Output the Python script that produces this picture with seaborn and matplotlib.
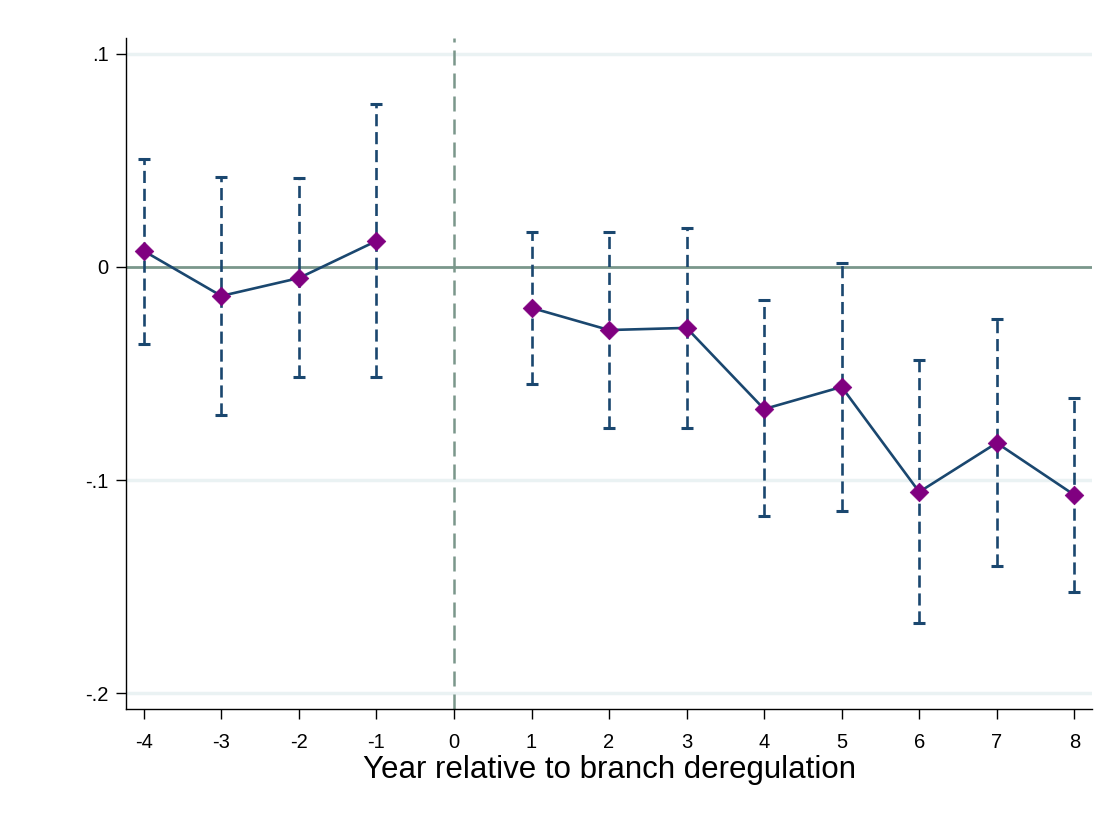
import matplotlib
matplotlib.use("Agg")
import matplotlib.pyplot as plt
import seaborn as sns
import pandas as pd
import numpy as np

years = [-4, -3, -2, -1, 1, 2, 3, 4, 5, 6, 7, 8]
coef = [0.0075, -0.0136, -0.0052, 0.0122, -0.0192, -0.0296, -0.0286, -0.0667, -0.0563, -0.1056, -0.0826, -0.1070]
upper = [0.0507, 0.0423, 0.0420, 0.0765, 0.0164, 0.0164, 0.0183, -0.0155, 0.0019, -0.0437, -0.0244, -0.0615]
lower = [-0.0360, -0.0695, -0.0516, -0.0516, -0.0550, -0.0756, -0.0756, -0.1170, -0.1146, -0.1670, -0.1404, -0.1526]
xticks = list(range(-4, 9))
yticks = [-0.2, -0.1, 0.0, 0.1]
ytick_labels = ["-.2", "-.1", "0", ".1"]
xlabel = "Year relative to branch deregulation"

df = pd.DataFrame({"year": years, "coef": coef, "upper": upper, "lower": lower})
df["period"] = np.where(df["year"] < 0, "pre", "post")

sns.set_theme(style="white")
plt.rcParams["font.family"] = ["Liberation Sans", "DejaVu Sans"]

navy = "#1a476f"
purple = "#800080"
refcol = "#7a978b"
gridcol = "#eaf2f3"

fig = plt.figure(figsize=(11.11, 8.13), dpi=100)
ax = fig.add_axes([0.1134, 0.1279, 0.8696, 0.8254])

for yv in yticks:
    if yv != 0:
        ax.axhline(yv, color=gridcol, lw=2.5, zorder=0)
ax.axhline(0, color=refcol, lw=2.0, zorder=1)
ax.axvline(0, color=refcol, lw=1.8, ls=(0, (6, 3.2)), zorder=1)

eb = ax.errorbar(df["year"], df["coef"],
                 yerr=[df["coef"] - df["lower"], df["upper"] - df["coef"]],
                 fmt="none", ecolor=navy, elinewidth=1.9, capsize=4.6, capthick=2.2, zorder=2)
for lc in eb[2]:
    lc.set_linestyle((0, (4.6, 2.2)))

sns.lineplot(data=df, x="year", y="coef", units="period", estimator=None, ax=ax,
             color=navy, lw=1.9, zorder=3)
sns.scatterplot(data=df, x="year", y="coef", ax=ax, marker="D", s=90, color=purple,
                edgecolor=purple, linewidth=0.5, zorder=4)

ax.set_xlim(-4.23, 8.23)
ax.set_ylim(-0.2075, 0.1075)
ax.set_xticks(xticks)
ax.set_xticklabels([str(v) for v in xticks])
ax.set_yticks(yticks)
ax.set_yticklabels(ytick_labels)
ax.tick_params(axis="both", direction="out", length=7.5, width=1, color="black",
               labelsize=14.5, labelcolor="black", bottom=True, left=True)
ax.tick_params(axis="x", pad=9.5)
ax.tick_params(axis="y", pad=5)
ax.set_xlabel(xlabel, fontsize=22.5, color="black", labelpad=2.5)
ax.set_ylabel("")
for side in ["top", "right"]:
    ax.spines[side].set_visible(False)
for side in ["left", "bottom"]:
    ax.spines[side].set_color("black")
    ax.spines[side].set_linewidth(1.0)
ax.grid(False)
ax.set_facecolor("white")
fig.patch.set_facecolor("white")

fig.savefig("out.png", dpi=100, facecolor="white")
